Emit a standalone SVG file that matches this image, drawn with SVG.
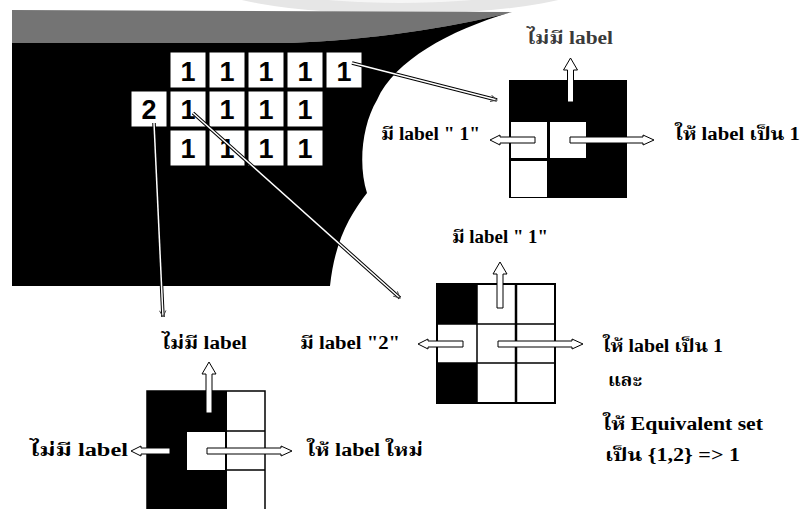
<svg xmlns="http://www.w3.org/2000/svg" width="806" height="509" viewBox="0 0 806 509">
<style>
.lbl{font-family:"Liberation Serif","Noto Serif Thai","Noto Sans Thai","DejaVu Serif",serif;font-weight:bold;font-size:18px;fill:#000}
.num{font-family:"Liberation Sans",Arial,sans-serif;font-weight:bold;font-size:27px;fill:#000;text-anchor:middle}
.cell{fill:#fff;stroke:#000;stroke-width:1}
.barr{fill:#fff;stroke:#000;stroke-width:1}
.lnb{stroke:#000;stroke-width:3.5;fill:none}
.lnw{stroke:#fff;stroke-width:1.5;fill:none}
.grid{stroke:#000;stroke-width:1.5}
</style>
<defs>
<marker id="ah" viewBox="0 0 10 10" refX="9" refY="5" markerWidth="8" markerHeight="8" orient="auto" markerUnits="userSpaceOnUse">
<path d="M1,1 L9,5 L1,9" fill="none" stroke="#444" stroke-width="1.2"/>
</marker>
</defs>
<rect width="806" height="509" fill="#fff"/>
<g id="background">
<ellipse cx="400" cy="-22" rx="200" ry="36" fill="#e6e6e6"/>
<ellipse cx="400" cy="-30" rx="172" ry="33" fill="#f6f6f6"/>
<path d="M12,10 L512,12 C450,28 370,40 290,43 L12,43 Z" fill="#747474"/>
<path d="M12,43 L290,43 C370,40 450,28 512,12 C450,30 395,60 377,100 C362,125 358,165 367,193 C350,215 335,240 330,286 L12,286 Z" fill="#000"/>
</g>
<g id="pixel-grid">
<rect class="cell" x="170" y="52" width="36" height="36"/>
<rect class="cell" x="209" y="52" width="36" height="36"/>
<rect class="cell" x="248" y="52" width="36" height="36"/>
<rect class="cell" x="287" y="52" width="36" height="36"/>
<rect class="cell" x="326" y="52" width="36" height="36"/>
<rect class="cell" x="131" y="91" width="36" height="36"/>
<rect class="cell" x="170" y="91" width="36" height="36"/>
<rect class="cell" x="209" y="91" width="36" height="36"/>
<rect class="cell" x="248" y="91" width="36" height="36"/>
<rect class="cell" x="287" y="91" width="36" height="36"/>
<rect class="cell" x="170" y="130" width="36" height="36"/>
<rect class="cell" x="209" y="130" width="36" height="36"/>
<rect class="cell" x="248" y="130" width="36" height="36"/>
<rect class="cell" x="287" y="130" width="36" height="36"/>
<text class="num" x="188" y="81">1</text>
<text class="num" x="227" y="81">1</text>
<text class="num" x="266" y="81">1</text>
<text class="num" x="305" y="81">1</text>
<text class="num" x="344" y="81">1</text>
<text class="num" x="149" y="119">2</text>
<text class="num" x="188" y="119">1</text>
<text class="num" x="227" y="119">1</text>
<text class="num" x="266" y="119">1</text>
<text class="num" x="305" y="119">1</text>
<text class="num" x="188" y="158">1</text>
<text class="num" x="227" y="158">1</text>
<text class="num" x="266" y="158">1</text>
<text class="num" x="305" y="158">1</text>
</g>
<g id="connectors">
<path class="lnb" d="M352,63 L497,100"/>
<path class="lnw" d="M352,63 L497,100" marker-end="url(#ah)"/>
<path class="lnb" d="M193,113 L400,298"/>
<path class="lnw" d="M193,113 L400,298" marker-end="url(#ah)"/>
<path class="lnb" d="M154,123 L163,317"/>
<path class="lnw" d="M154,123 L163,317" marker-end="url(#ah)"/>
</g>
<g id="case-top-right">
<rect x="509" y="80" width="118" height="118" fill="#000"/>
<rect x="511" y="122" width="36" height="36" fill="#fff"/>
<rect x="550" y="122" width="36" height="36" fill="#fff"/>
<rect x="511" y="161" width="36" height="36" fill="#fff"/>
<path class="barr" d="M567.5,102 L567.5,70 L563.5,70 L570.5,58 L577.5,70 L573.5,70 L573.5,102 Z"/>
<path class="barr" d="M535,137 L500,137 L500,135 L490,140 L500,145 L500,143 L535,143 Z"/>
<path class="barr" d="M570,137 L643,137 L643,135 L654,140 L643,145 L643,143 L570,143 Z"/>
<text class="lbl" x="527" y="44" textLength="86" lengthAdjust="spacingAndGlyphs" style="fill:#3a3a3a">ไม่มี label</text>
<text class="lbl" x="381" y="140" textLength="99" lengthAdjust="spacingAndGlyphs">มี label " 1"</text>
<text class="lbl" x="675" y="140" textLength="125" lengthAdjust="spacingAndGlyphs">ให้ label เป็น 1</text>
</g>
<g id="case-middle">
<rect x="437" y="284" width="118" height="119" fill="#fff" stroke="#000" stroke-width="2"/>
<rect x="437" y="284" width="40" height="40" fill="#000"/>
<rect x="437" y="363" width="40" height="40" fill="#000"/>
<line class="grid" x1="477" y1="284" x2="477" y2="403"/>
<line x1="516" y1="284" x2="516" y2="403" stroke="#000" stroke-width="2.5"/>
<line class="grid" x1="437" y1="324" x2="555" y2="324"/>
<line class="grid" x1="437" y1="363" x2="555" y2="363"/>
<path class="barr" d="M497,308 L497,274 L493,274 L500,262 L507,274 L503,274 L503,308 Z"/>
<path class="barr" d="M463,341 L428,341 L428,339 L418,344 L428,349 L428,347 L463,347 Z"/>
<path class="barr" d="M498,341 L572,341 L572,339 L583,344 L572,349 L572,347 L498,347 Z"/>
<text class="lbl" x="452" y="243" textLength="96" lengthAdjust="spacingAndGlyphs">มี label " 1"</text>
<text class="lbl" x="300" y="349" textLength="100" lengthAdjust="spacingAndGlyphs">มี label "2"</text>
<text class="lbl" x="603" y="352" textLength="120" lengthAdjust="spacingAndGlyphs">ให้ label เป็น 1</text>
<text class="lbl" x="608" y="386" textLength="34" lengthAdjust="spacingAndGlyphs">และ</text>
<text class="lbl" x="603" y="430" textLength="160" lengthAdjust="spacingAndGlyphs">ให้ Equivalent set</text>
<text class="lbl" x="605" y="461" textLength="135" lengthAdjust="spacingAndGlyphs">เป็น {1,2} => 1</text>
</g>
<g id="case-bottom-left">
<rect x="147" y="391" width="118" height="125" fill="#fff" stroke="#000" stroke-width="1.5"/>
<rect x="147" y="391" width="79" height="125" fill="#000"/>
<rect x="187" y="432" width="38" height="38" fill="#fff"/>
<line x1="226" y1="391" x2="226" y2="509" stroke="#000" stroke-width="2"/>
<line class="grid" x1="226" y1="431" x2="265" y2="431"/>
<line class="grid" x1="226" y1="470" x2="265" y2="470"/>
<path class="barr" d="M206,413 L206,374 L202,374 L209,362 L216,374 L212,374 L212,413 Z"/>
<path class="barr" d="M170,448 L141,448 L141,446 L131,451 L141,456 L141,454 L170,454 Z"/>
<path class="barr" d="M207,448 L281,448 L281,446 L292,451 L281,456 L281,454 L207,454 Z"/>
<text class="lbl" x="162" y="349" textLength="85" lengthAdjust="spacingAndGlyphs">ไม่มี label</text>
<text class="lbl" x="30" y="456" textLength="98" lengthAdjust="spacingAndGlyphs">ไม่มี label</text>
<text class="lbl" x="307" y="456" textLength="116" lengthAdjust="spacingAndGlyphs">ให้ label ใหม่</text>
</g>
</svg>
